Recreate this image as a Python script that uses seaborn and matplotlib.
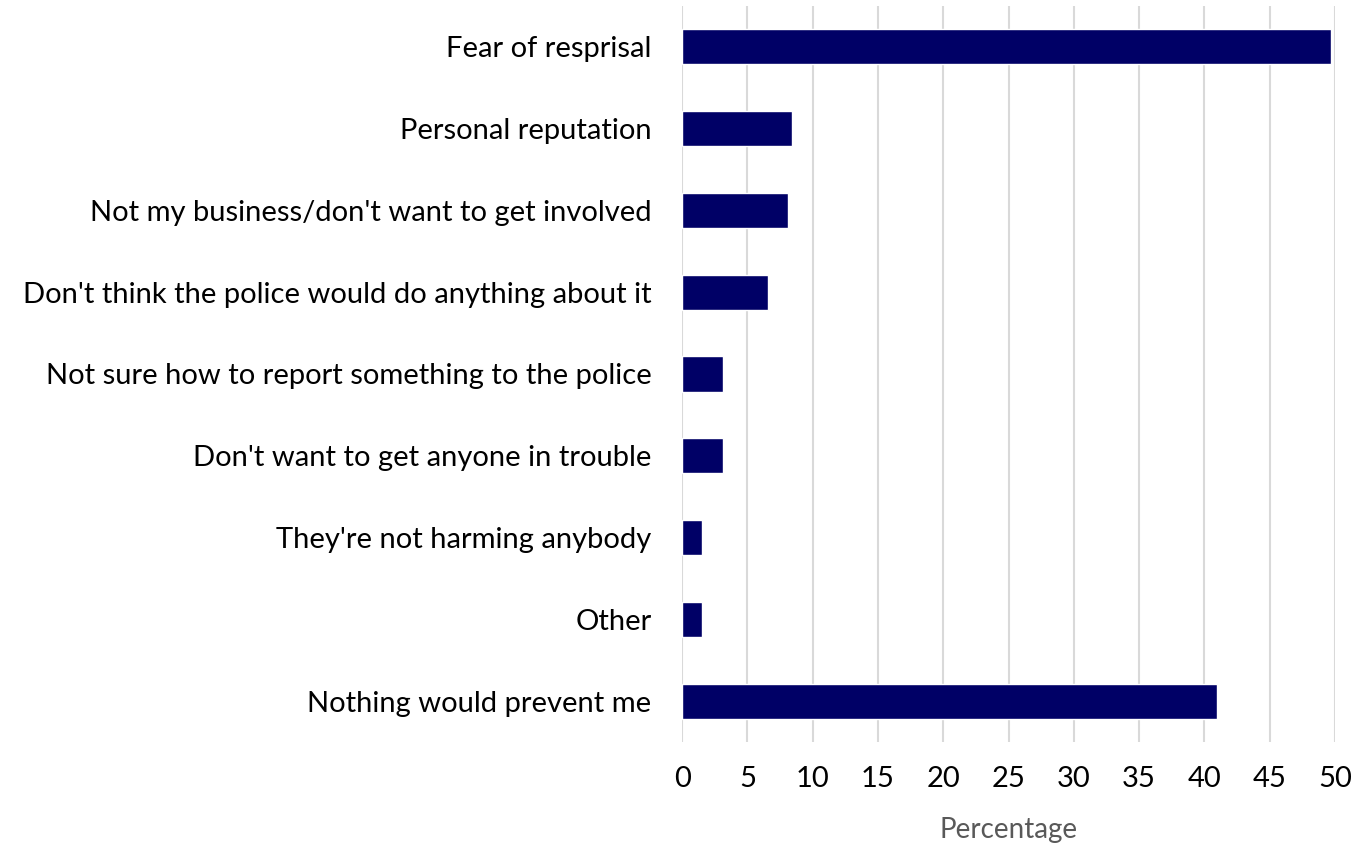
import numpy as np
import pandas as pd
import matplotlib
matplotlib.use("Agg")
import matplotlib.pyplot as plt
import seaborn as sns

reasons = [
    "Fear of resprisal",
    "Personal reputation",
    "Not my business/don't want to get involved",
    "Don't think the police would do anything about it",
    "Not sure how to report something to the police",
    "Don't want to get anyone in trouble",
    "They're not harming anybody",
    "Other",
    "Nothing would prevent me",
]
percentages = [49.7, 8.45, 8.1, 6.55, 3.15, 3.1, 1.5, 1.55, 41.0]
x_ticks = [0, 5, 10, 15, 20, 25, 30, 35, 40, 45, 50]

df = pd.DataFrame({"Reason": reasons, "Percentage": percentages})

sns.set_style("white")
plt.rcParams["font.family"] = ["Lato", "DejaVu Sans"]

fig = plt.figure(figsize=(13.71, 8.49), dpi=100)
ax = fig.add_axes([0.4975, 0.126, 0.4762, 0.867])

sns.barplot(data=df, x="Percentage", y="Reason", color="#000066",
            width=0.43, saturation=1, ax=ax, orient="h")

ax.set_xlim(0, 50)
ax.set_ylim(8.5, -0.5)
ax.set_xticks(x_ticks)
ax.set_xticklabels([str(t) for t in x_ticks])
ax.grid(axis="x", color="#d9d9d9", linewidth=1.5)
ax.set_axisbelow(True)
for s in ax.spines.values():
    s.set_visible(False)
ax.tick_params(axis="both", length=0, labelsize=21, colors="black")
ax.tick_params(axis="x", pad=17)
ax.tick_params(axis="y", pad=22)
ax.set_ylabel("")
ax.set_xlabel("Percentage", fontsize=20, color="#595959", labelpad=18)

fig.savefig("out.png", dpi=100)
